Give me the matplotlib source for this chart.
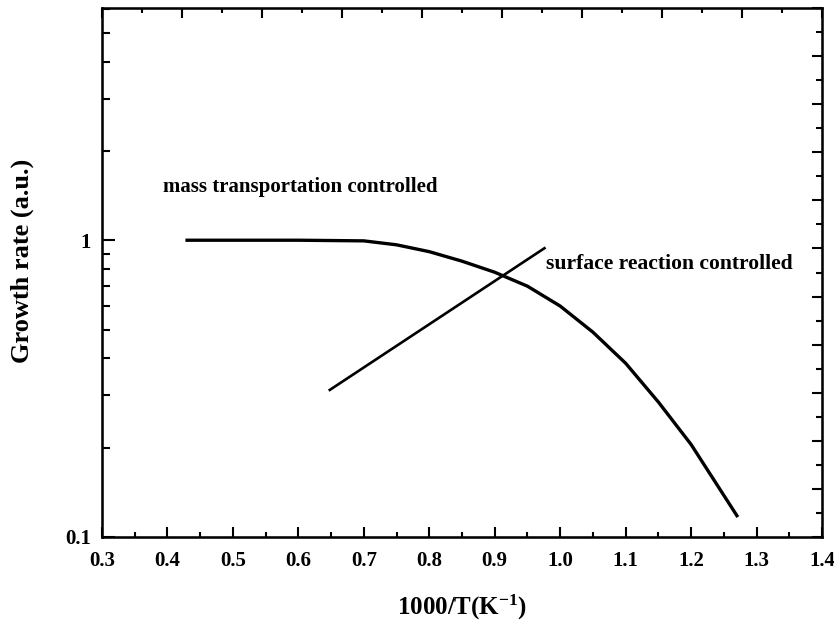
import numpy as np
import matplotlib.pyplot as plt
from matplotlib.ticker import MultipleLocator, LogLocator, NullFormatter, FixedLocator, FixedFormatter

plt.rcParams['font.family'] = ['Liberation Serif', 'DejaVu Serif']
plt.rcParams['font.weight'] = 'bold'
plt.rcParams['mathtext.fontset'] = 'custom'
plt.rcParams['mathtext.rm'] = 'Liberation Serif:bold'
plt.rcParams['mathtext.bf'] = 'Liberation Serif:bold'
plt.rcParams['mathtext.default'] = 'bf'

############### datos ###############
x_mass = [0.43, 0.50, 0.60, 0.70, 0.75, 0.80, 0.85, 0.90, 0.95, 1.00, 1.05, 1.10, 1.15, 1.20, 1.27]
y_mass = [1.0, 1.0, 1.0, 0.995, 0.965, 0.915, 0.85, 0.78, 0.70, 0.60, 0.49, 0.385, 0.285, 0.205, 0.118]

x_surf = [0.648, 0.976]
y_surf = [0.313, 0.94]

label_mass = "mass transportation controlled"
label_surf = "surface reaction controlled"
ytick_vals = [0.1, 1]
ytick_labels = ["0.1", "1"]


fig = plt.figure(figsize=(8.34, 6.23), dpi=100)
ax = fig.add_axes([102/834, 1 - 537/623, 720/834, 529/623])

ax.plot(x_mass, y_mass, color="black", lw=2.4, solid_joinstyle="round")
ax.plot(x_surf, y_surf, color="black", lw=1.9)

ax.set_yscale("log")
ax.set_xlim(0.3, 1.4)
ax.set_ylim(0.1, 6.06)

ax.xaxis.set_major_locator(MultipleLocator(0.1))
ax.xaxis.set_minor_locator(MultipleLocator(0.05))
ax.yaxis.set_major_locator(FixedLocator(ytick_vals))
ax.yaxis.set_major_formatter(FixedFormatter(ytick_labels))
ax.yaxis.set_minor_locator(LogLocator(base=10, subs=np.arange(2, 10)))
ax.yaxis.set_minor_formatter(NullFormatter())

ax.tick_params(axis="x", which="major", direction="in", length=7, width=1.5, labelsize=15, pad=10)
ax.tick_params(axis="x", which="minor", direction="in", length=3.5, width=1.5)
ax.tick_params(axis="y", which="major", direction="in", length=9, width=1.5, labelsize=15, pad=8)
ax.tick_params(axis="y", which="minor", direction="in", length=6, width=1.5)
for s in ax.spines.values():
    s.set_linewidth(1.8)

# ejes de arriba y derecha con marcas lineales (como en el original)
axt = ax.twiny()
axt.set_xlim(0, 9)
axt.xaxis.set_major_locator(MultipleLocator(1))
axt.xaxis.set_minor_locator(MultipleLocator(0.5))
axt.tick_params(axis="x", which="major", direction="in", length=7, width=1.5, labeltop=False)
axt.tick_params(axis="x", which="minor", direction="in", length=3.5, width=1.5)

axr = ax.twinx()
axr.set_ylim(0, 11)
axr.yaxis.set_major_locator(MultipleLocator(1))
axr.yaxis.set_minor_locator(MultipleLocator(0.5))
axr.tick_params(axis="y", which="major", direction="in", length=7, width=1.5, labelright=False)
axr.tick_params(axis="y", which="minor", direction="in", length=4, width=1.5)

ax.set_xlabel(r"1000/T(K$^{-1}$)", fontsize=18, fontweight="bold", labelpad=16)
ax.set_ylabel("Growth rate (a.u.)", fontsize=19, fontweight="bold")
ax.yaxis.set_label_coords(-0.094, 0.522)

ax.text(0.393, 1.51, label_mass, fontsize=15, fontweight="bold", va="center", ha="left")
ax.text(0.979, 0.83, label_surf, fontsize=15.6, fontweight="bold", va="center", ha="left")

fig.savefig("out.png", dpi=100)
